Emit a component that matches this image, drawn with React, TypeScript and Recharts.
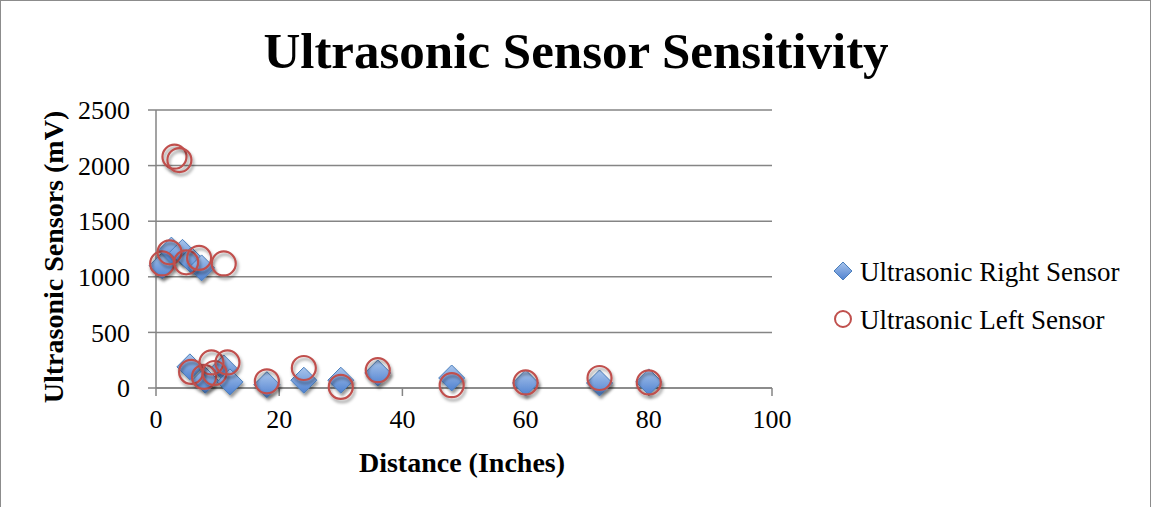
import React from "react";
import { CartesianGrid, Label, Scatter, ScatterChart, XAxis, YAxis } from "recharts";

// distances in inches, readings in mV
const rightDistance = [1, 2.5, 4.3, 5.7, 7.4, 5.5, 8, 11, 12, 18, 24, 30, 36, 48, 60, 72, 80];
const rightMv = [1100, 1240, 1220, 1150, 1080, 190, 70, 180, 55, 30, 70, 70, 135, 90, 45, 45, 55];

const leftDistance = [1, 2.2, 3, 3.8, 4.9, 7, 11, 5.7, 7.8, 9, 9.5, 11.6, 18, 24, 30, 36, 48, 60, 72, 80];
const leftMv = [1120, 1220, 2080, 2050, 1130, 1170, 1120, 145, 100, 230, 135, 230, 60, 180, 10, 160, 25, 50, 90, 50];

const xTicks = [0, 20, 40, 60, 80, 100];
const yTicks = [0, 500, 1000, 1500, 2000, 2500];

const seriesNames = ["Ultrasonic Right Sensor", "Ultrasonic Left Sensor"];

const rightData = rightDistance.map((x, i) => ({ x, y: rightMv[i] }));
const leftData = leftDistance.map((x, i) => ({ x, y: leftMv[i] }));

const FONT = "'Liberation Serif', 'Times New Roman', serif";
const GRID = "#858585";

function Diamond({ cx, cy, r = 13 }: { cx?: number; cy?: number; r?: number }) {
  if (cx == null || cy == null) return null;
  const pts = `${cx},${cy - r} ${cx + r},${cy} ${cx},${cy + r} ${cx - r},${cy}`;
  return <polygon points={pts} fill="url(#blueGrad)" stroke="#4a7ebb" strokeWidth={1} filter="url(#markShadow)" />;
}

function Ring({ cx, cy, r = 12 }: { cx?: number; cy?: number; r?: number }) {
  if (cx == null || cy == null) return null;
  return <circle cx={cx} cy={cy} r={r} fill="none" stroke="#c0504d" strokeWidth={2.2} filter="url(#markShadow)" />;
}

export default function App() {
  return (
    <div style={{ position: "absolute", left: 0, top: 0, width: 1152, height: 507, background: "#fff" }}>
      <style>{"body{margin:0}"}</style>
      <svg width={0} height={0} style={{ position: "absolute" }}>
        <defs>
          <linearGradient id="blueGrad" x1="0" y1="0" x2="0" y2="1">
            <stop offset="0%" stopColor="#a9c5ec" />
            <stop offset="100%" stopColor="#4f81d0" />
          </linearGradient>
          <filter id="markShadow" x="-50%" y="-50%" width="200%" height="200%">
            <feDropShadow dx="1.5" dy="3" stdDeviation="1.8" floodColor="#000" floodOpacity="0.4" />
          </filter>
        </defs>
      </svg>
      <div
        style={{
          position: "absolute",
          left: 0,
          top: 0,
          width: 1149,
          height: 510,
          border: "1px solid #8c8c8c",
        }}
      />
      <div
        style={{
          position: "absolute",
          left: 0,
          width: 1152,
          top: 22,
          textAlign: "center",
          fontFamily: FONT,
          fontWeight: "bold",
          fontSize: 51,
          lineHeight: "58px",
          color: "#000",
        }}
      >
        Ultrasonic Sensor Sensitivity
      </div>
      <ScatterChart
        width={1152}
        height={507}
        margin={{ top: 110, right: 380, bottom: 0, left: 0 }}
        style={{ position: "absolute", left: 0, top: 0 }}
      >
        <CartesianGrid vertical={false} stroke={GRID} strokeWidth={1.5} />
        <XAxis
          type="number"
          dataKey="x"
          domain={[0, 100]}
          ticks={xTicks}
          height={119}
          stroke={GRID}
          strokeWidth={1.5}
          tickSize={8}
          tickMargin={14}
          tick={{ fontSize: 26, fill: "#000", fontFamily: FONT }}
        >
          <Label
            content={({ viewBox }: any) => (
              <text
                x={viewBox.x + viewBox.width / 2 - 2}
                y={viewBox.y + 84}
                textAnchor="middle"
                fontFamily={FONT}
                fontWeight="bold"
                fontSize={28}
                fill="#000"
              >
                Distance (Inches)
              </text>
            )}
          />
        </XAxis>
        <YAxis
          type="number"
          dataKey="y"
          domain={[0, 2500]}
          ticks={yTicks}
          width={156}
          stroke={GRID}
          strokeWidth={1.5}
          tickSize={8}
          tickMargin={18}
          tick={{ fontSize: 26, fill: "#000", fontFamily: FONT }}
        >
          <Label
            content={({ viewBox }: any) => {
              const cx = 53;
              const cy = viewBox.y + viewBox.height / 2 + 8;
              return (
                <text
                  x={cx}
                  y={cy}
                  transform={`rotate(-90 ${cx} ${cy})`}
                  textAnchor="middle"
                  dominantBaseline="central"
                  fontFamily={FONT}
                  fontWeight="bold"
                  fontSize={28}
                  fill="#000"
                >
                  Ultrasonic Sensors (mV)
                </text>
              );
            }}
          />
        </YAxis>
        <Scatter name={seriesNames[0]} data={rightData} shape={(p: any) => <Diamond cx={p.cx} cy={p.cy} />} isAnimationActive={false} />
        <Scatter name={seriesNames[1]} data={leftData} shape={(p: any) => <Ring cx={p.cx} cy={p.cy} />} isAnimationActive={false} />
      </ScatterChart>
      {/* legend, drawn by hand so it does not squeeze the plot area */}
      <svg width={300} height={110} style={{ position: "absolute", left: 830, top: 244 }}>
        <polygon points="13,18 22,27 13,36 4,27" fill="url(#blueGrad)" stroke="#4a7ebb" strokeWidth={1} />
        <text x={30} y={37} fontFamily={FONT} fontSize={27} fill="#000">
          {seriesNames[0]}
        </text>
        <circle cx={13} cy={75} r={8} fill="none" stroke="#c0504d" strokeWidth={2} />
        <text x={30} y={85} fontFamily={FONT} fontSize={27} fill="#000">
          {seriesNames[1]}
        </text>
      </svg>
    </div>
  );
}
